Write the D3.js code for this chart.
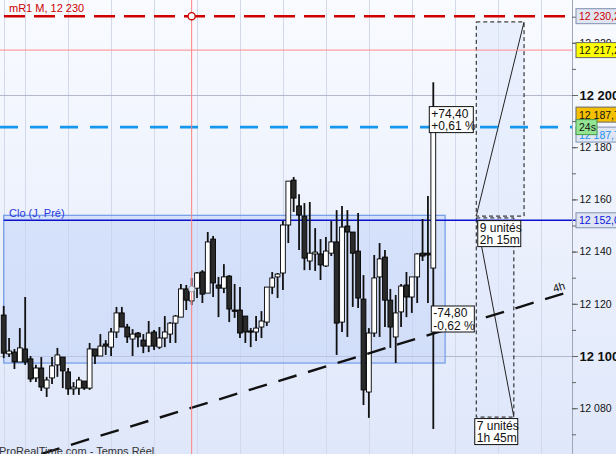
<!DOCTYPE html>
<html>
<head>
<meta charset="utf-8">
<script src="https://cdn.jsdelivr.net/npm/d3@7"></script>
<style>
  body { margin: 0; overflow: hidden; background: #fff; }
  svg { display: block; font-family: "Liberation Sans", Arial, sans-serif; }
</style>
</head>
<body>
<div class="chart"></div>
<script>
// 15 min candles
const open  = [12115.7,12100.8,12101.5,12097.7,12102.7,12098.9,12091.6,12095.4,12087.7,12091.6,
               12096.6,12099.6,12093.9,12087.4,12087.7,12090.4,12087.7,12102.7,12100.0,12104.6,
               12103.4,12109.2,12116.5,12111.1,12106.5,12108.8,12106.1,12103.8,12109.2,12103.4,
               12106.9,12108.4,12112.6,12114.9,12125.7,12121.1,12126.0,12132.2,12124.1,12144.8,
               12127.2,12126.0,12130.6,12117.6,12117.6,12115.3,12109.6,12109.2,12111.1,12113.0,
               12126.4,12130.3,12131.8,12150.2,12167.4,12157.5,12153.6,12136.4,12139.1,12139.1,
               12134.5,12139.4,12143.7,12113.0,12149.8,12147.5,12140.2,12121.8,12086.2,12108.8,
               12130.3,12137.9,12121.4,12107.3,12116.9,12127.2,12122.6,12130.3,12139.4,12139.4,
               12133.7];
const high  = [12119.2,12106.9,12102.7,12110.7,12122.6,12100.0,12096.6,12099.6,12092.0,12099.6,
               12103.1,12099.6,12095.4,12090.0,12092.0,12090.4,12105.0,12102.7,12108.4,12106.1,
               12110.7,12118.8,12118.8,12112.3,12110.3,12109.2,12108.4,12113.4,12110.0,12111.1,
               12115.3,12113.0,12115.7,12127.6,12127.2,12129.9,12132.2,12132.9,12147.5,12146.0,
               12130.3,12135.2,12131.0,12127.6,12126.4,12115.3,12110.7,12115.3,12117.2,12126.4,
               12132.2,12131.8,12151.7,12167.0,12168.6,12162.0,12158.6,12159.0,12149.0,12144.8,
               12145.6,12151.7,12155.9,12157.5,12155.9,12147.5,12154.8,12131.0,12110.7,12138.7,
               12143.3,12140.6,12125.7,12123.4,12127.6,12132.2,12128.0,12139.4,12152.5,12161.3,
               12204.9];
const low   = [12099.2,12099.6,12095.0,12097.7,12096.6,12090.0,12090.0,12086.6,12084.3,12089.3,
               12092.0,12087.7,12085.1,12085.1,12085.1,12087.0,12087.0,12096.9,12100.0,12100.4,
               12100.0,12106.9,12111.1,12105.0,12100.0,12103.4,12101.1,12101.5,12102.3,12102.7,
               12103.4,12105.0,12105.0,12114.9,12117.6,12119.5,12122.2,12120.3,12124.1,12122.6,
               12114.9,12124.1,12113.0,12114.6,12106.9,12105.0,12103.4,12105.7,12106.9,12111.5,
               12123.7,12122.2,12125.3,12143.3,12155.2,12140.6,12132.9,12132.9,12132.6,12129.1,
               12134.1,12138.3,12100.4,12109.2,12107.3,12118.8,12118.4,12081.2,12076.3,12107.3,
               12107.3,12111.1,12103.1,12097.3,12111.1,12114.9,12116.5,12120.3,12136.4,12120.3,
               12072.0];
const close = [12101.1,12101.9,12097.7,12103.1,12097.7,12091.2,12095.4,12088.1,12090.8,12096.2,
               12100.4,12094.3,12087.4,12088.1,12090.8,12087.7,12102.7,12100.0,12103.8,12103.8,
               12109.2,12116.5,12111.1,12107.3,12108.4,12107.3,12103.8,12108.8,12103.8,12106.9,
               12109.2,12112.6,12115.3,12125.7,12121.4,12125.7,12131.8,12123.7,12143.7,12128.0,
               12126.0,12130.3,12118.0,12117.2,12108.8,12109.2,12109.2,12110.7,12113.4,12126.4,
               12129.9,12131.4,12150.2,12167.0,12160.5,12154.0,12137.5,12139.4,12139.8,12134.9,
               12140.2,12143.7,12112.6,12149.4,12147.5,12139.4,12122.2,12087.0,12108.8,12129.9,
               12137.2,12121.4,12111.1,12116.5,12126.8,12122.6,12130.3,12139.1,12138.3,12138.7,
               12187.7];

// levels
const mR1 = 12230.2;
const level2 = 12217.2;
const lastPrice = 12187.7;
const prevClose = 12152.0;

// axis ticks
const tickMinor = d3.range(12070, 12240, 10);
const tickMajor = d3.range(12080, 12240, 20);
const gridX = [0, 4, 12, 20, 28, 36, 44, 52, 60, 68, 76, 84, 92, 100];

// drawings (candle index, price)
const cloBox = { i0: 0, i1: 82.2, top: 12153.9, bottom: 12097.3 };
const trend = [{ i: 7, p: 12062.5 }, { i: 104.2, p: 12123.9 }];
const upMeasure = { i0: 88, i1: 96.9, p0: 12153.6, p1: 12228.0 };
const dnMeasure = { i0: 88, i1: 95, p0: 12152.9, p1: 12076.6 };
const upLabel = ["+74,40", "+0,61 %"];
const dnLabel = ["-74,80", "-0,62 %"];
const upUnits = ["9 unités", "2h 15m"];
const dnUnits = ["7 unités", "1h 45m"];
const crossIdx = 35;

const outerWidth = 616, outerHeight = 454;
const axisX = 572;

const fr = d3.formatLocale({ decimal: ",", thousands: "\u00a0", grouping: [3], currency: ["", ""] });
const fmtInt = fr.format(",");
const fmt1 = fr.format(",.1f");

const svg = d3.select(".chart").append("svg")
    .attr("width", outerWidth)
    .attr("height", outerHeight);

const x = d3.scaleLinear().domain([0, 80]).range([3.7, 433.3]);
const y = d3.scaleLinear().domain([12100, 12200]).range([356, 95]);

// background
const defs = svg.append("defs");
const grad = defs.append("linearGradient").attr("id", "bg").attr("x1", 0).attr("x2", 0).attr("y1", 0).attr("y2", 1);
grad.append("stop").attr("offset", "0%").attr("stop-color", "#f9fbff");
grad.append("stop").attr("offset", "100%").attr("stop-color", "#dfe7fa");
svg.append("rect").attr("width", outerWidth).attr("height", outerHeight).attr("fill", "url(#bg)");

// grid
svg.append("g").selectAll("line").data(gridX).join("line")
    .attr("x1", d => Math.round(x(d)) + 0.5).attr("x2", d => Math.round(x(d)) + 0.5)
    .attr("y1", 0).attr("y2", outerHeight)
    .attr("stroke", "#d3d9ea").attr("stroke-width", 1);

svg.append("g").selectAll("line").data([12100, 12200]).join("line")
    .attr("x1", 0).attr("x2", axisX)
    .attr("y1", d => Math.round(y(d)) + 0.5).attr("y2", d => Math.round(y(d)) + 0.5)
    .attr("stroke", "#b3b8cc");

// previous close box
svg.append("rect")
    .attr("x", x(cloBox.i0)).attr("y", y(cloBox.top))
    .attr("width", x(cloBox.i1) - x(cloBox.i0))
    .attr("height", y(cloBox.bottom) - y(cloBox.top))
    .attr("fill", "#bfd1f7").attr("fill-opacity", 0.5)
    .attr("stroke", "#6f9ce8").attr("stroke-width", 1.2);

// measure boxes
function measureBox(m) {
    const top = Math.min(y(m.p0), y(m.p1)), bot = Math.max(y(m.p0), y(m.p1));
    svg.append("rect")
        .attr("x", x(m.i0)).attr("y", top)
        .attr("width", x(m.i1) - x(m.i0)).attr("height", bot - top)
        .attr("fill", "#dfe8fc").attr("fill-opacity", 0.55)
        .attr("stroke", "#111").attr("stroke-width", 1)
        .attr("stroke-dasharray", "4,3");
    svg.append("line")
        .attr("x1", x(m.i0)).attr("y1", y(m.p0))
        .attr("x2", x(m.i1)).attr("y2", y(m.p1))
        .attr("stroke", "#222").attr("stroke-width", 1);
}
measureBox(upMeasure);
measureBox(dnMeasure);

// levels
svg.append("line")
    .attr("x1", 0).attr("x2", axisX).attr("y1", y(level2)).attr("y2", y(level2))
    .attr("stroke", "#ff8a8a").attr("stroke-width", 1);
svg.append("line")
    .attr("x1", 4).attr("x2", axisX).attr("y1", y(mR1)).attr("y2", y(mR1))
    .attr("stroke", "#d00000").attr("stroke-width", 2.6).attr("stroke-dasharray", "21,9");
svg.append("line")
    .attr("x1", 0).attr("x2", axisX).attr("y1", y(lastPrice)).attr("y2", y(lastPrice))
    .attr("stroke", "#1597ee").attr("stroke-width", 2.6).attr("stroke-dasharray", "18,12");
svg.append("line")
    .attr("x1", x(cloBox.i0)).attr("x2", axisX + 4).attr("y1", y(prevClose)).attr("y2", y(prevClose))
    .attr("stroke", "#0b12cc").attr("stroke-width", 1.4);

svg.append("text")
    .attr("x", 9).attr("y", y(mR1) - 4)
    .attr("font-size", 11).attr("fill", "#cc0000")
    .text("mR1 M, " + fmtInt(Math.round(mR1)));
svg.append("text")
    .attr("x", 9).attr("y", y(prevClose) - 3)
    .attr("font-size", 11).attr("fill", "#2a38e0")
    .text("Clo (J, Pré)");

// candles
const data = open.map((o, i) => ({ i, o, h: high[i], l: low[i], c: close[i] }));
const candles = svg.append("g").selectAll("g").data(data).join("g");
candles.append("line")
    .attr("x1", d => x(d.i)).attr("x2", d => x(d.i))
    .attr("y1", d => y(d.h)).attr("y2", d => y(d.l))
    .attr("stroke", "#111").attr("stroke-width", 1.8);
candles.append("rect")
    .attr("x", d => x(d.i) - 2.4)
    .attr("width", 4.8)
    .attr("y", d => y(Math.max(d.o, d.c)))
    .attr("height", d => Math.max(1.2, Math.abs(y(d.o) - y(d.c))))
    .attr("fill", d => d.c >= d.o ? "#fff" : "#2a2a2a")
    .attr("stroke", "#000").attr("stroke-width", 0.9);

// trend line
svg.append("line")
    .attr("x1", x(trend[0].i)).attr("y1", y(trend[0].p))
    .attr("x2", x(trend[1].i)).attr("y2", y(trend[1].p))
    .attr("stroke", "#111").attr("stroke-width", 2.4).attr("stroke-dasharray", "19,12");
const ang = Math.atan2(y(trend[1].p) - y(trend[0].p), x(trend[1].i) - x(trend[0].i)) * 180 / Math.PI;
svg.append("text")
    .attr("transform", `translate(${x(trend[1].i) - 9},${y(trend[1].p) - 1}) rotate(${ang})`)
    .attr("font-size", 11).attr("fill", "#111")
    .text("4h");

// crosshair
svg.append("line")
    .attr("x1", x(crossIdx)).attr("x2", x(crossIdx))
    .attr("y1", 0).attr("y2", outerHeight)
    .attr("stroke", "#ff8080").attr("stroke-width", 1);
svg.append("circle")
    .attr("cx", x(crossIdx)).attr("cy", y(mR1)).attr("r", 3.6)
    .attr("fill", "#fff").attr("stroke", "#cc0000").attr("stroke-width", 1.4);
svg.append("circle")
    .attr("cx", x(crossIdx)).attr("cy", y(close[crossIdx])).attr("r", 3)
    .attr("fill", "#e8ecf4").attr("stroke", "#9aa0b0").attr("stroke-width", 1);

// text boxes
function note(lines, bx, by, w) {
    const g = svg.append("g").attr("transform", `translate(${bx},${by})`);
    g.append("rect").attr("width", w).attr("height", 26)
        .attr("fill", "#fff").attr("stroke", "#111").attr("stroke-width", 1);
    lines.forEach((t, k) => g.append("text")
        .attr("x", 2).attr("y", 11 + k * 12.5)
        .attr("font-size", 12).attr("fill", "#111").text(t));
}
const last = data[data.length - 1];
note(upLabel, x(last.i) - 4, y(lastPrice) - 20.5, 44);
note(dnLabel, x(last.i) - 2, 306, 43);
note(upUnits, x(upMeasure.i0) + 1.5, y(upMeasure.p0) + 4.5, 43);
note(dnUnits, x(dnMeasure.i0) - 1.5, y(dnMeasure.p1) + 1.5, 43);

// right axis
svg.append("line")
    .attr("x1", axisX + 0.5).attr("x2", axisX + 0.5).attr("y1", 0).attr("y2", outerHeight)
    .attr("stroke", "#9ea6b8");
const minorAxis = svg.append("g").attr("transform", `translate(${axisX},0)`)
    .call(d3.axisRight(y).tickValues(tickMinor).tickSize(4).tickFormat(""));
const majorAxis = svg.append("g").attr("transform", `translate(${axisX},0)`)
    .call(d3.axisRight(y).tickValues(tickMajor).tickSize(6).tickPadding(1.5).tickFormat(fmtInt));
[minorAxis, majorAxis].forEach(a => {
    a.select(".domain").remove();
    a.selectAll("line").attr("stroke", "#666");
});
majorAxis.selectAll("text")
    .attr("font-family", "Liberation Sans, Arial, sans-serif")
    .attr("font-size", d => d % 100 === 0 ? 13 : 10.5)
    .attr("fill", "#111")
    .attr("font-weight", d => d % 100 === 0 ? "bold" : "normal");

function priceTag(v, text, fill, stroke, color, dy, w) {
    const g = svg.append("g").attr("transform", `translate(${axisX + 4},${y(v) + dy})`);
    g.append("rect").attr("x", 0).attr("y", -7.5).attr("width", w).attr("height", 15)
        .attr("fill", fill).attr("stroke", stroke).attr("stroke-width", 1);
    g.append("text").attr("x", 3).attr("y", 4).attr("font-size", 10.5).attr("fill", color).text(text);
}
priceTag(mR1, fmt1(mR1), "#dfe5f2", "#8090b0", "#d00000", 0, 60);
priceTag(level2, fmt1(level2), "#ffff00", "#666", "#111", 0, 60);
priceTag(lastPrice, fmt1(lastPrice), "#dfe5f2", "#8090b0", "#1a8ef0", 7.5, 60);
priceTag(lastPrice, fmt1(lastPrice), "#f5c000", "#666", "#111", -12.5, 60);
priceTag(lastPrice, "24s", "#93e493", "#4a9a4a", "#111", 0, 21);
priceTag(prevClose, fmt1(prevClose), "#dfe5f2", "#8090b0", "#0a14dd", 0, 60);

svg.append("text")
    .attr("x", -1).attr("y", 455)
    .attr("font-size", 11).attr("fill", "#333")
    .text("ProRealTime.com - Temps Réel");
</script>
</body>
</html>
